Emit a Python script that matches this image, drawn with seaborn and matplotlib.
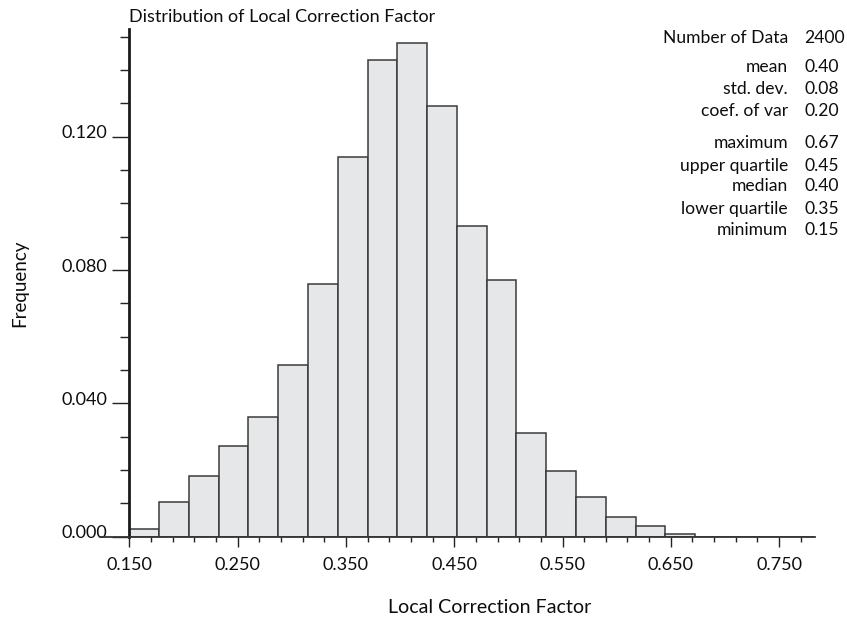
import numpy as np
import pandas as pd
import matplotlib
matplotlib.use("Agg")
import matplotlib.pyplot as plt
import matplotlib.transforms as mtransforms
from matplotlib.ticker import MultipleLocator, FixedLocator, FormatStrFormatter
from matplotlib.lines import Line2D
import seaborn as sns

# Histogram classes: 23 classes of equal width starting at 0.15
bin_start = 0.15
bin_width = 0.0275
frequency = [0.0024, 0.0103, 0.0183, 0.0273, 0.0358, 0.0516, 0.0757, 0.1140,
             0.1429, 0.1482, 0.1292, 0.0933, 0.0770, 0.0312, 0.0196, 0.0120,
             0.0059, 0.0033, 0.0008, 0.0, 0.0, 0.0, 0.0]

x_major_ticks = [0.15, 0.25, 0.35, 0.45, 0.55, 0.65, 0.75]
y_major_ticks = [0.0, 0.04, 0.08, 0.12]

stat_labels = ["Number of Data", "mean", "std. dev.", "coef. of var",
               "maximum", "upper quartile", "median", "lower quartile", "minimum"]
stat_values = ["2400", "0.40", "0.08", "0.20", "0.67", "0.45", "0.40", "0.35", "0.15"]

title = "Distribution of Local Correction Factor"
xlabel = "Local Correction Factor"
ylabel = "Frequency"

sns.set_theme(style="white")
plt.rcParams["font.family"] = ["Lato", "DejaVu Sans"]

TEXT = "#0d0d0d"

n_bins = len(frequency)
edges = [float(e) for e in bin_start + bin_width * np.arange(n_bins + 1)]
df = pd.DataFrame({"value": [e + bin_width / 2 for e in edges[:-1]], "freq": frequency})

W, H = 847, 620
fig = plt.figure(figsize=(W / 100, H / 100), dpi=100)
ax = fig.add_axes([129.3 / W, 1 - 536.7 / H, (815.4 - 129.3) / W, (536.7 - 28.7) / H])

sns.histplot(data=df, x="value", weights="freq", bins=edges, stat="count",
             color="#e6e7e8", edgecolor="#3a3a3a", linewidth=1.1, alpha=1.0, ax=ax)

ax.set_xlim(0.15, 0.7835)
ax.set_ylim(0, 0.1524)

ax.xaxis.set_major_locator(FixedLocator(x_major_ticks))
ax.xaxis.set_minor_locator(FixedLocator(np.round(np.arange(0.17, 0.78, 0.02), 3)))
ax.xaxis.set_major_formatter(FormatStrFormatter("%.3f"))
ax.yaxis.set_major_locator(FixedLocator(y_major_ticks))
ax.yaxis.set_minor_locator(MultipleLocator(0.01))
ax.yaxis.set_major_formatter(FormatStrFormatter("%.3f"))

ax.tick_params(axis="x", which="major", direction="out", length=7.5, width=1.0,
               color="#222222", labelsize=13, pad=7, bottom=True)
ax.tick_params(axis="x", which="minor", direction="out", length=3.8, width=1.0,
               color="#222222", bottom=True)
ax.tick_params(axis="y", which="major", direction="out", length=12.5, width=1.0,
               color="#222222", labelsize=13, pad=3.5, left=True)
ax.tick_params(axis="y", which="minor", direction="out", length=6.5, width=1.0,
               color="#222222", left=True)
for lbl in ax.get_xticklabels() + ax.get_yticklabels():
    lbl.set_color(TEXT)

# value labels on the vertical axis sit slightly above their ticks
lift = mtransforms.ScaledTranslation(0, 5 / 100, fig.dpi_scale_trans)
for lbl in ax.get_yticklabels():
    lbl.set_transform(lbl.get_transform() + lift)

for side in ("top", "right"):
    ax.spines[side].set_visible(False)
ax.spines["left"].set_linewidth(2.0)
ax.spines["left"].set_color("#1a1a1a")
ax.spines["bottom"].set_linewidth(1.3)
ax.spines["bottom"].set_color("#333333")

# zero line continues left of the vertical axis
ax.add_line(Line2D([-29 / 686, 0], [0, 0], transform=ax.transAxes,
                   color="#333333", linewidth=1.3, clip_on=False))

ax.set_xlabel("")
ax.set_ylabel("")
fig.text(129 / W, 1 - 22 / H, title, ha="left", va="baseline",
         fontsize=13, color=TEXT)
fig.text(490 / W, 1 - 613 / H, xlabel, ha="center", va="baseline",
         fontsize=14.1, color=TEXT)
fig.text(20 / W, 1 - 283 / H, ylabel, ha="center", va="center", rotation=90,
         fontsize=13.5, color=TEXT)

# summary statistics block
row_y = [37.7, 66.7, 89.3, 111, 142.7, 165.7, 186, 209, 230]
for lab, val, yy in zip(stat_labels, stat_values, row_y):
    fig.text(788 / W, 1 - yy / H, lab, ha="right", va="center", fontsize=12.6, color=TEXT)
    fig.text(804 / W, 1 - yy / H, val, ha="left", va="center", fontsize=12.6, color=TEXT)

fig.savefig("out.png", dpi=100)
